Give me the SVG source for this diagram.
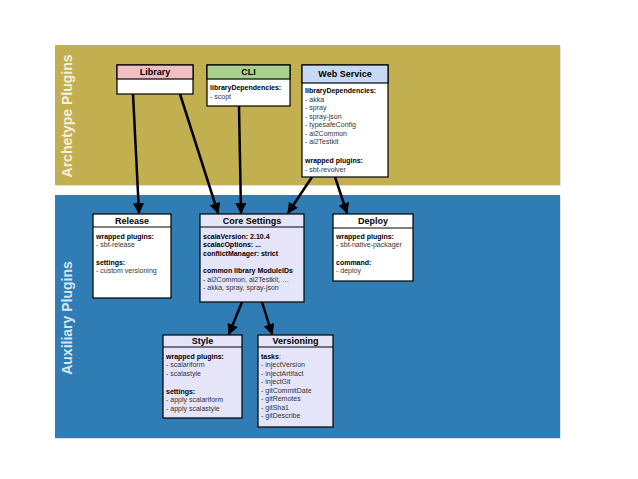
<svg xmlns="http://www.w3.org/2000/svg" width="638" height="479" viewBox="0 0 638 479">
<defs>
<marker id="ah" viewBox="0 0 10 10" refX="9" refY="5" markerWidth="4.4" markerHeight="4.4" orient="auto" markerUnits="strokeWidth">
<path d="M0,0 L10,5 L0,10 z" fill="#000"/>
</marker>
<style>
.panel-label{font-family:"Liberation Sans",Arial,sans-serif;font-weight:bold;font-size:14px;fill:#ffffff;fill-opacity:0.82;text-anchor:middle}
.box{stroke:#000;stroke-width:1.2}
.hdr{font-family:"Liberation Sans",Arial,sans-serif;font-weight:bold;font-size:9px;fill:#000;text-anchor:middle}
.t{font-family:"Liberation Sans",Arial,sans-serif;font-size:7px;fill:#333333}
.b{font-weight:bold;fill:#000}
.conn{stroke:#000;stroke-width:2.5;fill:none;marker-end:url(#ah)}
</style>
</defs>
<rect width="638" height="479" fill="#ffffff"/>
<g id="archetype-panel">
<rect x="56" y="46" width="505" height="140" fill="#d0ccc0" opacity="0.6"/>
<rect x="55" y="45" width="505" height="140" fill="#c2af4f"/>
<text class="panel-label" transform="translate(72,116) rotate(-90)">Archetype Plugins</text>
</g>
<g id="auxiliary-panel">
<rect x="56" y="196" width="505" height="243" fill="#c8d0d8" opacity="0.6"/>
<rect x="55" y="195" width="505" height="243" fill="#2f7db4"/>
<text class="panel-label" transform="translate(72,318) rotate(-90)">Auxiliary Plugins</text>
</g>
<g id="connectors">
<line class="conn" x1="133" y1="94" x2="139" y2="213"/>
<line class="conn" x1="180" y1="94" x2="218" y2="213"/>
<line class="conn" x1="239" y1="106" x2="241" y2="213"/>
<line class="conn" x1="312" y1="177" x2="288" y2="213"/>
<line class="conn" x1="335" y1="177" x2="347" y2="213"/>
<line class="conn" x1="242" y1="302" x2="229" y2="334"/>
<line class="conn" x1="262" y1="302" x2="272" y2="334"/>
</g>
<g id="library">
<rect class="box" x="117" y="65" width="76" height="29" fill="#ffffff"/>
<rect class="box" x="117" y="65" width="76" height="14" fill="#efbfc4"/>
<text class="hdr" x="155" y="75.2">Library</text>
</g>
<g id="cli">
<rect class="box" x="207" y="65" width="83" height="41" fill="#ffffff"/>
<rect class="box" x="207" y="65" width="83" height="14" fill="#a9d18e"/>
<text class="hdr" x="248.5" y="75.2">CLI</text>
<text class="t b" x="210" y="90">libraryDependencies:</text>
<text class="t" x="210" y="98.5">- scopt</text>
</g>
<g id="web-service">
<rect class="box" x="302" y="65" width="86" height="112" fill="#ffffff"/>
<rect class="box" x="302" y="65" width="86" height="18" fill="#c6d9f5"/>
<text class="hdr" x="345" y="77.2">Web Service</text>
<text class="t b" x="305" y="93">libraryDependencies:</text>
<text class="t" x="305" y="101.5">- akka</text>
<text class="t" x="305" y="110">- spray</text>
<text class="t" x="305" y="118.5">- spray-json</text>
<text class="t" x="305" y="127">- typesafeConfig</text>
<text class="t" x="305" y="135.5">- ai2Common</text>
<text class="t" x="305" y="144">- ai2Testkit</text>
<text class="t b" x="305" y="163">wrapped plugins:</text>
<text class="t" x="305" y="171.5">- sbt-revolver</text>
</g>
<g id="release">
<rect class="box" x="93" y="214" width="78" height="84" fill="#ffffff"/>
<line class="box" x1="93" y1="227" x2="171" y2="227"/>
<text class="hdr" x="132" y="224">Release</text>
<text class="t b" x="96" y="238.5">wrapped plugins:</text>
<text class="t" x="96" y="247">- sbt-release</text>
<text class="t b" x="96" y="264.5">settings:</text>
<text class="t" x="96" y="273">- custom versioning</text>
</g>
<g id="core-settings">
<rect class="box" x="200" y="214" width="104" height="88" fill="#e6e4f8"/>
<line class="box" x1="200" y1="227" x2="304" y2="227"/>
<text class="hdr" x="252" y="224">Core Settings</text>
<text class="t b" x="203" y="238.5">scalaVersion: 2.10.4</text>
<text class="t b" x="203" y="247">scalacOptions: ...</text>
<text class="t b" x="203" y="255.5">conflictManager: strict</text>
<text class="t b" x="203" y="273">common library ModuleIDs</text>
<text class="t" x="203" y="281.5">- ai2Common, ai2Testkit, …</text>
<text class="t" x="203" y="290">- akka, spray, spray-json</text>
</g>
<g id="deploy">
<rect class="box" x="333" y="214" width="80" height="67" fill="#ffffff"/>
<line class="box" x1="333" y1="228" x2="413" y2="228"/>
<text class="hdr" x="373" y="224">Deploy</text>
<text class="t b" x="336" y="238.5">wrapped plugins:</text>
<text class="t" x="336" y="247">- sbt-native-packager</text>
<text class="t b" x="336" y="264.5">command:</text>
<text class="t" x="336" y="273">- deploy</text>
</g>
<g id="style">
<rect class="box" x="163" y="335" width="79" height="83" fill="#e6e4f8"/>
<line class="box" x1="163" y1="347" x2="242" y2="347"/>
<text class="hdr" x="202.5" y="344">Style</text>
<text class="t b" x="166" y="358.5">wrapped plugins:</text>
<text class="t" x="166" y="367">- scalariform</text>
<text class="t" x="166" y="375.5">- scalastyle</text>
<text class="t b" x="166" y="393.5">settings:</text>
<text class="t" x="166" y="402">- apply scalariform</text>
<text class="t" x="166" y="410.5">- apply scalastyle</text>
</g>
<g id="versioning">
<rect class="box" x="258" y="335" width="75" height="92" fill="#e6e4f8"/>
<line class="box" x1="258" y1="347" x2="333" y2="347"/>
<text class="hdr" x="295.5" y="344">Versioning</text>
<text class="t" x="261" y="358.5"><tspan class="b">tasks</tspan>:</text>
<text class="t" x="261" y="367">- injectVersion</text>
<text class="t" x="261" y="375.5">- injectArtifact</text>
<text class="t" x="261" y="384">- injectGit</text>
<text class="t" x="261" y="392.5">- gitCommitDate</text>
<text class="t" x="261" y="401">- gitRemotes</text>
<text class="t" x="261" y="409.5">- gitSha1</text>
<text class="t" x="261" y="418">- gitDescribe</text>
</g>
</svg>
